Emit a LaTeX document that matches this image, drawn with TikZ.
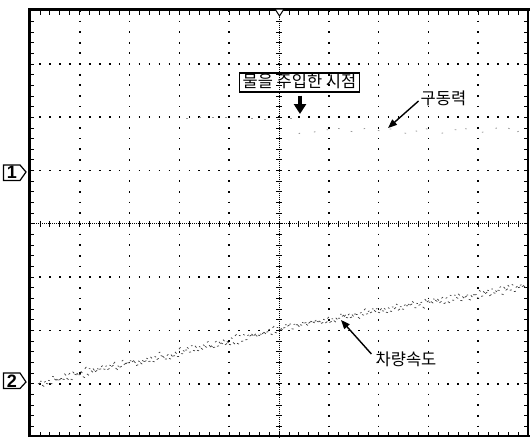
\documentclass[tikz,border=0pt]{standalone}
\usepackage{fontspec}
\setsansfont{Liberation Sans}
\newfontfamily\kr{Noto Sans CJK KR}
\usetikzlibrary{arrows.meta}
\tikzset{
  gridv/.style={line width=1.7pt, dash pattern=on 1.7pt off 8.96pt, black},
  gridh/.style={line width=1.7pt, dash pattern=on 1.7pt off 8.26pt, black},
  axisline/.style={line width=1pt, dash pattern=on 0.9pt off 1.1pt, black},
  tick/.style={line width=0.9pt, black},
  trace/.style={line width=0.7pt, black!78},
  faint/.style={line width=0.8pt, black!40},
  lbl/.style={font=\kr\fontsize{16.5}{17}\selectfont, inner sep=0pt},
  arr/.style={line width=1.4pt, -{Triangle[width=7pt,length=9pt]}},
  bigarr/.style={line width=3.2pt, -{Triangle[width=12pt,length=10pt]}},
  chmark/.style={line width=1.2pt, black},
  chnum/.style={font=\sffamily\bfseries\fontsize{18}{18}\selectfont, inner sep=0pt}
}
\begin{document}
\begin{tikzpicture}[x=1pt,y=-1pt]
\useasboundingbox (0,0) rectangle (530,437);
\fill[white] (0,0) rectangle (530,437);
\def\XL{30}\def\DX{49.8}\def\YT{10.7}\def\DY{53.3}
% dotted grid lines
\foreach \i in {1,2,3,4,6,7,8,9}
  \draw[gridv] ({\XL+\i*\DX},{\YT-0.85}) -- ({\XL+\i*\DX},437);
\foreach \j in {1,2,3,5,6,7}
  \draw[gridh] ({\XL-0.85},{\YT+\j*\DY}) -- (528,{\YT+\j*\DY});
% centre axes
\draw[axisline] ({\XL+5*\DX},\YT) -- ({\XL+5*\DX},437);
\draw[axisline] (\XL,{\YT+4*\DY}) -- (528,{\YT+4*\DY});
\foreach \k in {1,...,39}
  \draw[tick] ({\XL+5*\DX-3},{\YT+\k*\DY/5}) -- ++(6,0);
\foreach \k in {1,...,49}
  \draw[tick] ({\XL+\k*\DX/5},{\YT+4*\DY-3}) -- ++(0,6);
% border ticks
\foreach \k in {1,...,39}{
  \draw[tick] (\XL,{\YT+\k*\DY/5}) -- ++(4,0);
  \draw[tick] (528,{\YT+\k*\DY/5}) -- ++(-4,0);
}
\foreach \k in {1,...,49}{
  \draw[tick] ({\XL+\k*\DX/5},\YT) -- ++(0,4);
  \draw[tick] ({\XL+\k*\DX/5},436) -- ++(0,-4);
}
% frame
\draw[line width=3.5pt] (29.3,437) -- (29.3,9.5);
\draw[line width=3pt] (28,9.5) -- (529.5,9.5);
\draw[line width=2.2pt] (528.3,9) -- (528.3,437);
\draw[line width=2pt] (28,436) -- (529.5,436);
% trigger marker
\draw[line width=1pt, fill=white] (275,9) -- (284,9) -- (279.5,16) -- cycle;
% trace 1 (faint)
\pgfmathsetseed{11}
\foreach \x in {186,199,...,290}
  \draw[faint] (\x,{118+1.5*rand}) -- ++(1.5,0);
\foreach \x in {298,311,...,524}
  \draw[faint] ({\x+3*rand},{131+3*rand}) -- ++(1.5,{0.5*rand});
% trace 2 (vehicle speed)
\pgfmathsetseed{7}
\foreach \xa/\ya/\xb/\yb in {34/385/91/373,91/373/169/356,169/356/237/341,237/341/279/330,279/330/338/319,338/319/406/307,406/307/473/297,473/297/522/288}{
  \pgfmathsetmacro\n{int((\xb-\xa)/4)}
  \foreach \t in {1,...,\n}{
    \pgfmathsetmacro\x{\xa+(\xb-\xa)*\t/\n}
    \pgfmathsetmacro\y{\ya+(\yb-\ya)*\t/\n+2.5*rand}
    \pgfmathsetmacro\yy{\ya+(\yb-\ya)*\t/\n-3.5+2.5*rand}
    \draw[trace] (\x,\y) -- ++(2,{1.8*rand});
    \draw[trace] ({\x+2},\yy) -- ++(1.5,{1.8*rand});
  }
}
% channel markers
\draw[chmark, fill=white] (3.5,165) -- (20,165) -- (26,172) -- (20,180.5) -- (3.5,180.5) -- cycle;
\node[chnum] (ch1) at (12,172.8) {1};
\draw[chmark, fill=white] (3.5,373) -- (20,373) -- (26,382) -- (20,388.5) -- (3.5,388.5) -- cycle;
\node[chnum] (ch2) at (12,380.8) {2};
% labels
\node[lbl, draw, line width=1.3pt, inner xsep=3pt, inner ysep=2pt, text height=12.5pt, text depth=2.5pt] (inj) at (299.5,82.5) {물을 주입한 시점};
\coordinate (injtip) at (300,114);
\draw[bigarr] ([yshift=-3pt]inj.south -| injtip) -- (injtip);
\node[lbl] (drv) at (443.5,98) {구동력};
\coordinate (drvtip) at (388,128);
\draw[arr] ([shift={(-2pt,-3pt)}]drv.west) -- (drvtip);
\node[lbl] (spd) at (406,359) {차량속도};
\coordinate (spdtip) at (341,320);
\draw[arr] ([shift={(-4pt,5pt)}]spd.west) -- (spdtip);
\end{tikzpicture}
\end{document}
